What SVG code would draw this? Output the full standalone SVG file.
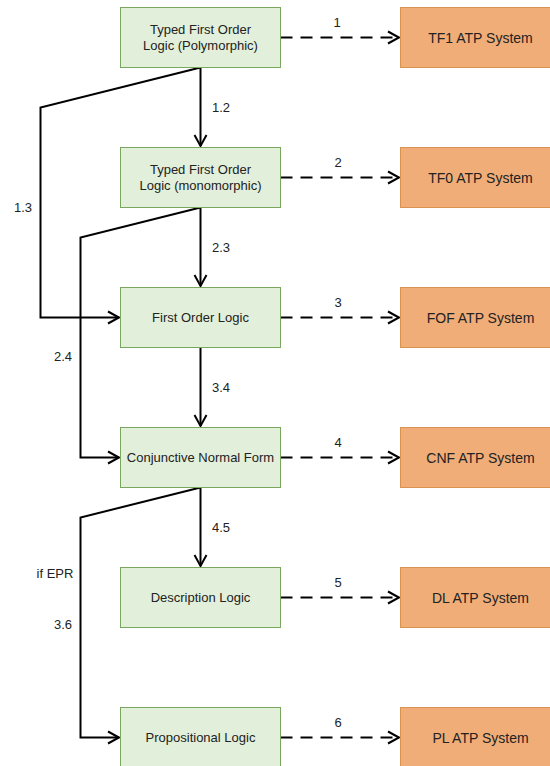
<svg xmlns="http://www.w3.org/2000/svg" width="550" height="766" viewBox="0 0 550 766">
<style>
.g{fill:#e2efda;stroke:#7ba65d;stroke-width:1}
.o{fill:#f0ad78;stroke:#d9924f;stroke-width:1}
.t{font-family:"Liberation Sans",Arial,sans-serif;font-size:13px;fill:#222;text-anchor:middle}
.to{font-family:"Liberation Sans",Arial,sans-serif;font-size:14px;fill:#222;text-anchor:middle}
.l{font-family:"Liberation Sans",Arial,sans-serif;font-size:13px;fill:#222}
.e{fill:none;stroke:#000;stroke-width:2}
.d{fill:none;stroke:#000;stroke-width:2;stroke-dasharray:12 8}
</style>
<defs>
<marker id="a" markerUnits="userSpaceOnUse" markerWidth="16" markerHeight="16" refX="13" refY="8" orient="auto" viewBox="0 0 16 16">
<path d="M2,2 L13,8 L2,14" fill="none" stroke="#000" stroke-width="2"/>
</marker>
</defs>
<g id="connectors">
<path class="e" d="M200.5,67.5 V146" marker-end="url(#a)"/>
<path class="e" d="M200.5,67.5 L40.5,107.5 V317.5 H119" marker-end="url(#a)"/>
<path class="e" d="M200.5,207.5 V286" marker-end="url(#a)"/>
<path class="e" d="M200.5,207.5 L80.5,237.5 V457.5 H119" marker-end="url(#a)"/>
<path class="e" d="M200.5,347.5 V426" marker-end="url(#a)"/>
<path class="e" d="M200.5,487.5 V566" marker-end="url(#a)"/>
<path class="e" d="M200.5,487.5 L80.5,517.5 V737.5 H119" marker-end="url(#a)"/>
<path class="d" d="M280.5,37.5 H399" marker-end="url(#a)"/>
<path class="d" d="M280.5,177.5 H399" marker-end="url(#a)"/>
<path class="d" d="M280.5,317.5 H399" marker-end="url(#a)"/>
<path class="d" d="M280.5,457.5 H399" marker-end="url(#a)"/>
<path class="d" d="M280.5,597.5 H399" marker-end="url(#a)"/>
<path class="d" d="M280.5,737.5 H399" marker-end="url(#a)"/>
<text class="l" x="212" y="112">1.2</text>
<text class="l" x="23" y="212" text-anchor="middle">1.3</text>
<text class="l" x="212" y="252">2.3</text>
<text class="l" x="63" y="361" text-anchor="middle">2.4</text>
<text class="l" x="212" y="392">3.4</text>
<text class="l" x="212" y="532">4.5</text>
<text class="l" x="55" y="578" text-anchor="middle">if EPR</text>
<text class="l" x="63" y="629" text-anchor="middle">3.6</text>
<text class="l" x="337" y="27" text-anchor="middle">1</text>
<text class="l" x="338" y="167" text-anchor="middle">2</text>
<text class="l" x="338" y="307" text-anchor="middle">3</text>
<text class="l" x="338" y="447" text-anchor="middle">4</text>
<text class="l" x="338" y="587" text-anchor="middle">5</text>
<text class="l" x="338" y="727" text-anchor="middle">6</text>
</g>
<g id="tf1-logic"><rect class="g" x="120.5" y="7.5" width="160" height="60"/><text class="t" x="200.5" y="34">Typed First Order</text><text class="t" x="200.5" y="49.5">Logic (Polymorphic)</text></g>
<g id="tf0-logic"><rect class="g" x="120.5" y="147.5" width="160" height="60"/><text class="t" x="200.5" y="174">Typed First Order</text><text class="t" x="200.5" y="189.5">Logic (monomorphic)</text></g>
<g id="fof-logic"><rect class="g" x="120.5" y="287.5" width="160" height="60"/><text class="t" x="200.5" y="322">First Order Logic</text></g>
<g id="cnf-logic"><rect class="g" x="120.5" y="427.5" width="160" height="60"/><text class="t" x="200.5" y="462">Conjunctive Normal Form</text></g>
<g id="dl-logic"><rect class="g" x="120.5" y="567.5" width="160" height="60"/><text class="t" x="200.5" y="602">Description Logic</text></g>
<g id="pl-logic"><rect class="g" x="120.5" y="707.5" width="160" height="60"/><text class="t" x="200.5" y="742">Propositional Logic</text></g>
<g id="tf1-atp"><rect class="o" x="400.5" y="7.5" width="160" height="60"/><text class="to" x="480.5" y="42.5">TF1 ATP System</text></g>
<g id="tf0-atp"><rect class="o" x="400.5" y="147.5" width="160" height="60"/><text class="to" x="480.5" y="182.5">TF0 ATP System</text></g>
<g id="fof-atp"><rect class="o" x="400.5" y="287.5" width="160" height="60"/><text class="to" x="480.5" y="322.5">FOF ATP System</text></g>
<g id="cnf-atp"><rect class="o" x="400.5" y="427.5" width="160" height="60"/><text class="to" x="480.5" y="462.5">CNF ATP System</text></g>
<g id="dl-atp"><rect class="o" x="400.5" y="567.5" width="160" height="60"/><text class="to" x="480.5" y="602.5">DL ATP System</text></g>
<g id="pl-atp"><rect class="o" x="400.5" y="707.5" width="160" height="60"/><text class="to" x="480.5" y="742.5">PL ATP System</text></g>
</svg>
